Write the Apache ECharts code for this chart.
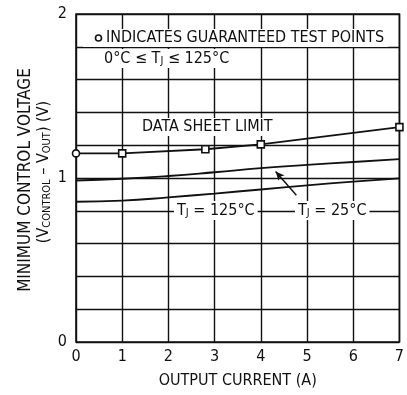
<!DOCTYPE html>
<html><head><meta charset="utf-8">
<script src="https://cdn.jsdelivr.net/npm/echarts@6/dist/echarts.min.js"></script>
<style>html,body{margin:0;padding:0;background:#fff}#c{width:407px;height:395px}</style>
</head><body><div id="c"></div>
<script>
const FONT = "'Liberation Sans Narrow','DejaVu Sans Condensed',Arial,sans-serif";
const xTicks = [0,1,2,3,4,5,6,7];
const yLabeled = [0,1,2];
const limitI = [0, 1, 2.8, 4, 7];
const limitV = [1.15, 1.15, 1.175, 1.205, 1.31];
const limitSymbols = ['circle','rect','rect','rect','rect'];
const curveI = [0,1,2,3,4,5,6,7];
const v25 = [0.985, 0.995, 1.012, 1.035, 1.06, 1.08, 1.098, 1.115];
const v125 = [0.855, 0.862, 0.882, 0.905, 0.93, 0.955, 0.978, 0.998];
const arrowFrom = [4.77, 0.895];
const arrowTo = [4.32, 1.04];

const chart = echarts.init(document.getElementById('c'));
const K = '#111';
const sub = {fontFamily: FONT, fontSize: 11, fill: K, verticalAlign: 'bottom', padding: [6,0,0,0]};
const option = {
  animation: false,
  textStyle: {fontFamily: FONT},
  grid: {left: 76, right: 3, top: 14, bottom: 53, show: true, borderColor: K, borderWidth: 1.6, z: 3},
  xAxis: {
    type: 'value', min: 0, max: 7, interval: 1,
    axisLine: {show: false}, axisTick: {show: false},
    axisLabel: {color: K, fontSize: 16, fontFamily: FONT, margin: 7,
      formatter: v => xTicks.includes(v) ? String(v) : ''},
    splitLine: {show: true, lineStyle: {color: K, width: 1.4}},
    name: 'OUTPUT CURRENT (A)', nameLocation: 'middle', nameGap: 31,
    nameTextStyle: {color: K, fontSize: 16, fontFamily: FONT}
  },
  yAxis: {
    type: 'value', min: 0, max: 2, interval: 0.2,
    axisLine: {show: false}, axisTick: {show: false},
    axisLabel: {color: K, fontSize: 16, fontFamily: FONT, margin: 9,
      formatter: v => { const r = Math.round(v); return (Math.abs(v - r) < 1e-6 && yLabeled.includes(r)) ? String(r) : ''; }},
    splitLine: {show: true, lineStyle: {color: K, width: 1.4}}
  },
  series: [
    {type: 'line', data: curveI.map((x,i)=>[x, v125[i]]), smooth: true, symbol: 'none',
     lineStyle: {color: K, width: 1.9}, z: 5},
    {type: 'line', data: curveI.map((x,i)=>[x, v25[i]]), smooth: true, symbol: 'none',
     lineStyle: {color: K, width: 1.9}, z: 5,
     markLine: {silent: true, symbol: ['none','arrow'], symbolSize: [6, 9],
       lineStyle: {color: K, width: 1.4, type: 'solid'}, label: {show: false},
       data: [[{coord: arrowFrom}, {coord: arrowTo}]]}},
    {type: 'line', data: limitI.map((x,i)=>({value: [x, limitV[i]], symbol: limitSymbols[i]})),
     symbolSize: 7, itemStyle: {color: '#fff', borderColor: K, borderWidth: 1.6},
     lineStyle: {color: K, width: 1.9}, z: 6}
  ],
  graphic: [
    {type: 'text', left: 83, top: 29, z: 50,
     style: {text: 'INDICATES GUARANTEED TEST POINTS', font: '16px ' + FONT, fill: K,
       backgroundColor: '#fff', padding: [1, 4, 1, 23]}},
    {type: 'circle', shape: {cx: 98.5, cy: 38, r: 3}, z: 51,
     style: {fill: '#fff', stroke: K, lineWidth: 1.6}},
    {type: 'text', left: 101, top: 49, z: 50,
     style: {text: '{a|0°C ≤ T}{s|J}{a| ≤ 125°C}', fill: K, backgroundColor: '#fff', padding: [1, 3, 1, 3],
       rich: {a: {fontFamily: FONT, fontSize: 16, fill: K}, s: sub}}},
    {type: 'text', left: 139, top: 118, z: 50,
     style: {text: 'DATA SHEET LIMIT', font: '16px ' + FONT, fill: K, backgroundColor: '#fff', padding: [1, 3, 1, 3]}},
    {type: 'text', left: 174, top: 201, z: 50,
     style: {text: '{a|T}{s|J}{a| = 125°C}', fill: K, backgroundColor: '#fff', padding: [1, 3, 1, 3],
       rich: {a: {fontFamily: FONT, fontSize: 16, fill: K}, s: sub}}},
    {type: 'text', left: 295, top: 201, z: 50,
     style: {text: '{a|T}{s|J}{a| = 25°C}', fill: K, backgroundColor: '#fff', padding: [1, 3, 1, 3],
       rich: {a: {fontFamily: FONT, fontSize: 16, fill: K}, s: sub}}},
    {type: 'text', x: 26, y: 180, rotation: Math.PI/2, z: 50,
     style: {text: 'MINIMUM CONTROL VOLTAGE', font: '17px ' + FONT, fill: K, align: 'center', verticalAlign: 'middle'}},
    {type: 'text', x: 44, y: 172, rotation: Math.PI/2, z: 50,
     style: {text: '{a|(V}{s|CONTROL}{a| – V}{s|OUT}{a|) (V)}', align: 'center', verticalAlign: 'middle',
       rich: {a: {fontFamily: FONT, fontSize: 16, fill: K}, s: sub}}}
  ]
};
chart.setOption(option);
</script></body></html>
